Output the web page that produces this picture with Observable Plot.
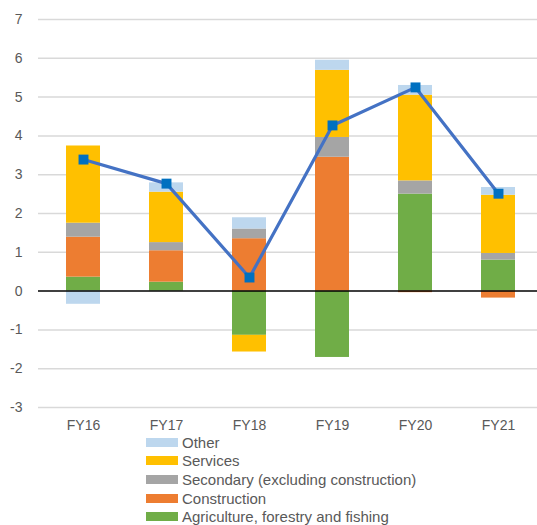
<!DOCTYPE html>
<html>
<head>
<meta charset="utf-8">
<script src="https://cdn.jsdelivr.net/npm/d3@7"></script>
<script src="https://cdn.jsdelivr.net/npm/@observablehq/plot@0.6"></script>
<style>
  html, body { margin: 0; padding: 0; background: #fff; overflow: hidden; }
  #wrap { position: relative; width: 537px; height: 525px; font-family: "Liberation Sans", Arial, sans-serif; }
  #legend { position: absolute; left: 146px; top: 433px; color: #595959; font-size: 15px; }
  .row { display: flex; align-items: center; height: 18.6px; }
  .sw { width: 32px; height: 9px; margin-right: 4px; }
</style>
</head>
<body>
<div id="wrap"><div id="chart"></div><div id="legend"></div></div>
<script>
const years = ["FY16", "FY17", "FY18", "FY19", "FY20", "FY21"];
const seriesNames = ["Agriculture, forestry and fishing", "Construction", "Secondary (excluding construction)", "Services", "Other"];
const colors = ["#70AD47", "#ED7D31", "#A5A5A5", "#FFC000", "#BDD7EE"];
const agriculture = [0.36, 0.23, -1.14, -1.71, 2.50, 0.80];
const construction = [1.03, 0.81, 1.35, 3.45, -0.04, -0.18];
const secondary = [0.36, 0.21, 0.25, 0.51, 0.34, 0.17];
const services = [1.99, 1.30, -0.43, 1.73, 2.21, 1.50];
const other = [-0.34, 0.24, 0.29, 0.26, 0.25, 0.20];
const total = [3.39, 2.77, 0.35, 4.27, 5.25, 2.51];
const yTicks = [-3, -2, -1, 0, 1, 2, 3, 4, 5, 6, 7];

const seriesValues = [agriculture, construction, secondary, services, other];
const bars = [];
seriesNames.forEach((s, si) => years.forEach((y, i) => bars.push({year: y, series: s, value: seriesValues[si][i]})));
const line = years.map((y, i) => ({year: y, value: total[i]}));

const chart = Plot.plot({
  width: 537,
  height: 434,
  marginLeft: 38,
  marginRight: 0,
  marginTop: 19,
  marginBottom: 27,
  style: {fontFamily: "Liberation Sans, Arial, sans-serif", fontSize: "14px", color: "#595959", background: "#fff"},
  x: {domain: years, range: [38, 542], paddingInner: 0.595, paddingOuter: 0.2976, label: null},
  y: {domain: [-3, 7], label: null},
  color: {domain: seriesNames, range: colors},
  marks: [
    Plot.ruleY(yTicks.filter(d => d !== 0), {stroke: "#D9D9D9", strokeWidth: 1.5}),
    Plot.barY(bars, Plot.stackY({offset: null, order: seriesNames}, {x: "year", y: "value", z: "series", fill: "series", inset: 0})),
    Plot.ruleY([0], {stroke: "#000", strokeWidth: 1.5}),
    Plot.lineY(line, {x: "year", y: "value", stroke: "#4472C4", strokeWidth: 3.2}),
    Plot.dot(line, {x: "year", y: "value", symbol: "square", r: 5.6, fill: "#0070C0", stroke: "none"}),
    Plot.axisY({ticks: yTicks, tickSize: 0, tickPadding: 16, tickFormat: d => String(d), fill: "#595959", fontSize: 14}),
    Plot.axisX({tickSize: 0, tickPadding: 13, fill: "#595959", fontSize: 14})
  ]
});
document.getElementById("chart").appendChild(chart);

const legend = document.getElementById("legend");
seriesNames.slice().reverse().forEach((s, i) => {
  const c = colors[seriesNames.length - 1 - i];
  const row = document.createElement("div");
  row.className = "row";
  row.innerHTML = `<div class="sw" style="background:${c}"></div><span>${s}</span>`;
  legend.appendChild(row);
});
</script>
</body>
</html>
